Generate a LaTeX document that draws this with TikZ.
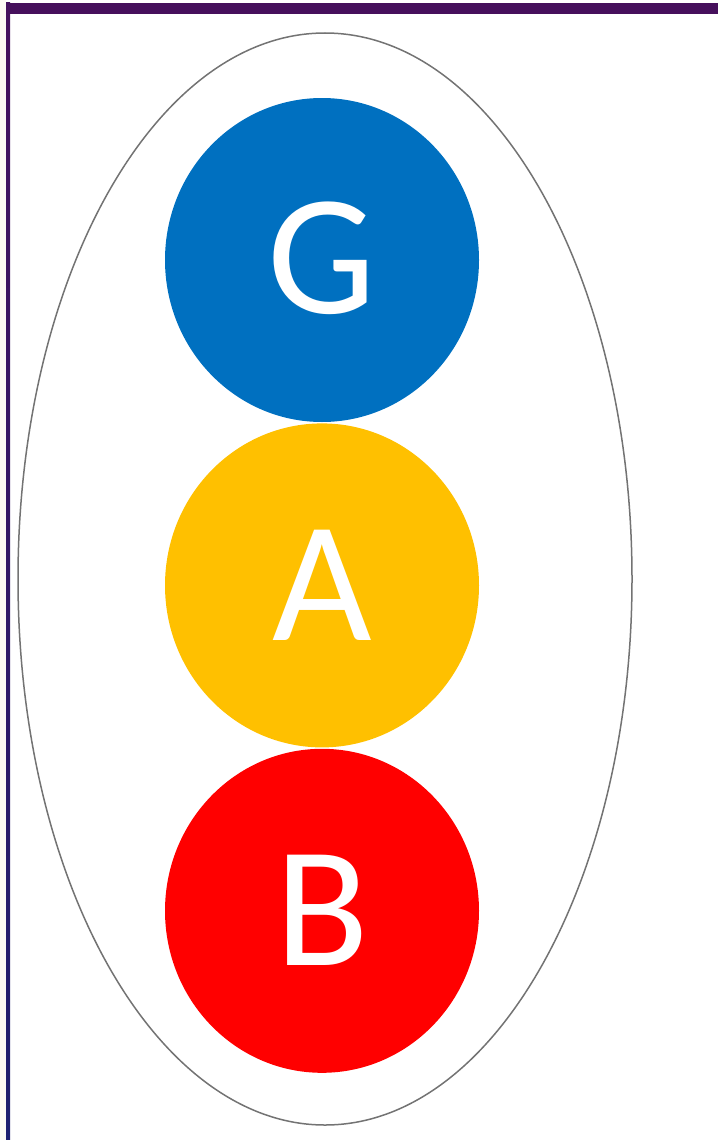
\documentclass[tikz,border=0pt]{standalone}
\usepackage{fontspec}
\setsansfont{Carlito}
\usetikzlibrary{positioning,shapes.geometric}
\usepackage{xcolor}
\definecolor{frame}{RGB}{70,16,92}
\definecolor{framelow}{RGB}{30,30,110}
\definecolor{offwhite}{RGB}{253,249,243}
\definecolor{gblue}{RGB}{0,112,192}
\definecolor{agold}{RGB}{255,192,0}
\definecolor{bred}{RGB}{255,0,0}

\begin{document}
\begin{tikzpicture}[x=1pt,y=-1pt,
  ball/.style={ellipse,minimum width=314pt,minimum height=324pt,inner sep=0pt,
    text=white,font=\sffamily\fontsize{172}{176}\selectfont}]
  \useasboundingbox (0,0) rectangle (718,1140);
  % page edges
  \fill[offwhite] (0,0) rectangle (6,1140);
  \fill[frame] (6,3) rectangle (718,14);
  \shade[top color=frame,bottom color=framelow] (6,3) rectangle (10,1140);
  % outer ring
  \draw[black!55,line width=1.5pt] (325,579) ellipse [x radius=307,y radius=546];
  % the three balls
  \node[ball,fill=gblue] (g) at (322,260) {\raisebox{4pt}{G}};
  \node[ball,fill=agold,below=1pt of g] (a) {A};
  \node[ball,fill=bred,below=1pt of a] (b) {B};
\end{tikzpicture}
\end{document}
